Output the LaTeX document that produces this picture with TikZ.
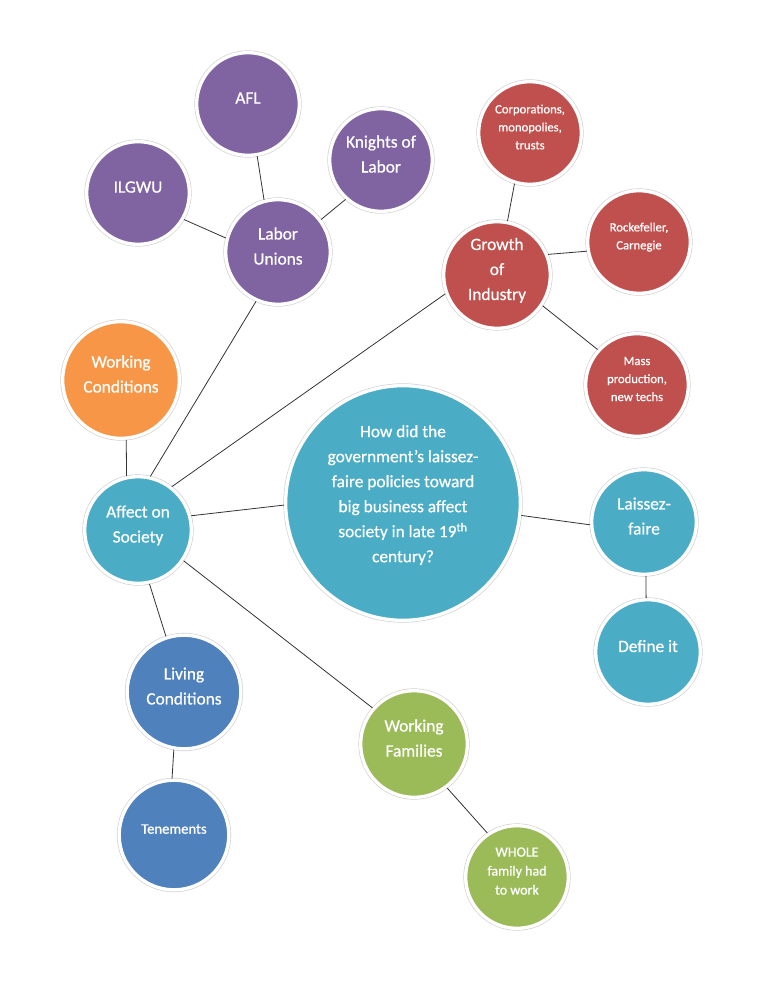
\documentclass[tikz,border=0pt]{standalone}
\usepackage{fontspec}
\setmainfont{Carlito}[FakeBold=0.7]
\usetikzlibrary{positioning,shadows}
\definecolor{unionpurple}{HTML}{8064A2}
\definecolor{industryred}{HTML}{C0504D}
\definecolor{workorange}{HTML}{F79646}
\definecolor{societyteal}{HTML}{4BACC6}
\definecolor{livingblue}{HTML}{4F81BD}
\definecolor{familygreen}{HTML}{9BBB59}

\begin{document}
\begin{tikzpicture}[on grid, every node/.style={circle, draw=white, line width=2.5pt, text=white, align=center,
    inner sep=0pt, minimum size=77pt, text depth=9pt, font=\fontsize{13}{18.75}\selectfont,
    drop shadow={shadow xshift=.9pt, shadow yshift=-1.1pt, opacity=.35},
    preaction={draw=black!18, line width=3.5pt}},
    detail/.style={font=\fontsize{9.5}{13.5}\selectfont},
    every edge/.style={draw=black!80, line width=.6pt}]
    \useasboundingbox (0,0) rectangle (576pt,-745.5pt);

    \node[fill=societyteal, minimum size=176pt, text depth=14pt] (q) at (302.25pt,-377.25pt) {How did the\\government’s laissez-\\faire policies toward\\big business affect\\society in late 19\textsuperscript{th}\\century?};
    \node[fill=societyteal, minimum size=80pt, below left=20.25pt and 198.75pt of q] (soc) {Affect on\\Society};
    \node[fill=workorange, minimum size=87.5pt, above left=112.5pt and 12.75pt of soc] (wcon) {Working\\Conditions};

    \node[fill=unionpurple, minimum size=78.5pt, above right=208.5pt and 105pt of soc] (lab) {Labor\\Unions};
    \node[fill=unionpurple, above left=44.25pt and 105pt of lab] (ilg) {ILGWU};
    \node[fill=unionpurple, above left=111pt and 22.5pt of lab] (afl) {AFL};
    \node[fill=unionpurple, above right=69pt and 77.25pt of lab] (kol) {Knights of\\Labor};

    \node[fill=industryred, minimum size=80pt, above right=171pt and 70.5pt of q] (ind) {Growth\\of\\Industry};
    \node[fill=industryred, detail, above right=106.5pt and 24.75pt of ind] (corp) {Corporations,\\monopolies,\\trusts};
    \node[fill=industryred, detail, above right=24.75pt and 106.5pt of ind] (rock) {Rockefeller,\\Carnegie};
    \node[fill=industryred, detail, below right=82.5pt and 105pt of ind] (mass) {Mass\\production,\\new techs};

    \node[fill=societyteal, minimum size=78.5pt, below right=14.25pt and 180.75pt of q] (lf) {Laissez-\\faire};
    \node[fill=societyteal, minimum size=78.5pt, below right=97.5pt and 3pt of lf] (def) {Define it};

    \node[fill=livingblue, minimum size=85.25pt, below right=121.5pt and 34.5pt of soc] (liv) {Living\\Conditions};
    \node[fill=livingblue, minimum size=82.25pt, font=\fontsize{11}{15}\selectfont, below left=107.25pt and 7.5pt of liv] (ten) {Tenements};

    \node[fill=familygreen, minimum size=80pt, below right=160.5pt and 207pt of soc] (fam) {Working\\Families};
    \node[fill=familygreen, font=\fontsize{10.5}{14.25}\selectfont, below right=99.75pt and 77.25pt of fam] (whole) {WHOLE\\family had\\to work};

    % connectors
    \path (ilg.-30) edge (lab.165);
    \path (afl.-80) edge (lab.105);
    \path (kol.228) edge (lab.37);
    \path (lab.246) edge (soc.77);
    \path (ind.200) edge (soc.52);
    \path (soc.15) edge (q.181);
    \path (wcon.-85) edge (soc.102);
    \path (soc.-78) edge (liv.108);
    \path (soc.-34) edge (fam.139);
    \path (liv.-100) edge (ten.92);
    \path (fam.-53) edge (whole.124);
    \path (q.-6) edge (lf.183);
    \path (lf.-88) edge (def.92);
    \path (ind.79) edge (corp.253);
    \path (ind.22) edge (rock.190);
    \path (ind.-34) edge (mass.138);
\end{tikzpicture}
\end{document}
